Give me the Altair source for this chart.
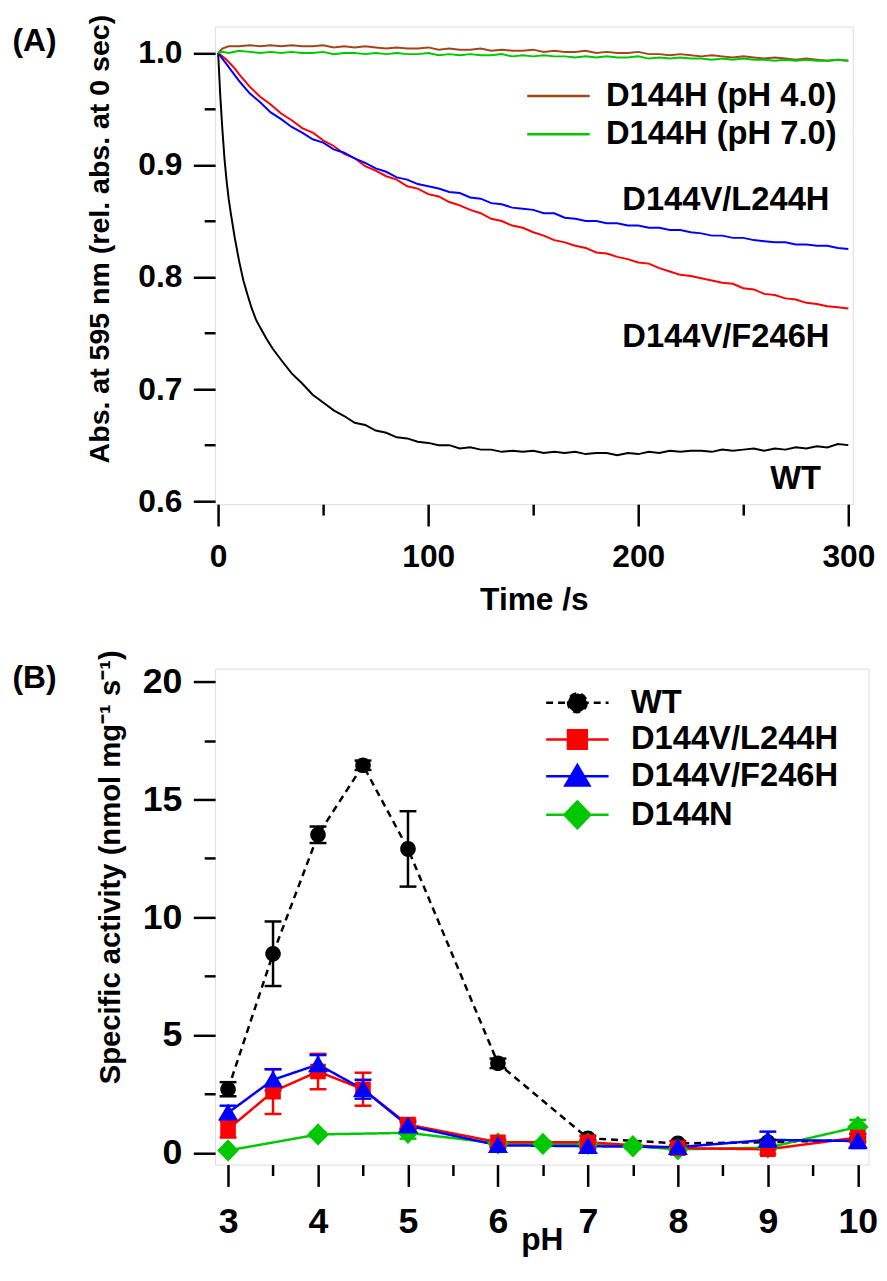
import altair as alt
import pandas as pd

FONT = "Liberation Sans"

# ---------------- Panel A : absorbance time courses ----------------
t_wt = [0, 1, 2, 3, 4, 5, 6, 8, 10, 12, 14, 16, 18, 20, 23, 26,
        30, 35, 40, 45, 50, 55, 60, 65, 70, 75, 80, 85, 90, 95, 100, 105, 110, 115, 120, 125,
        130, 135, 140, 145, 150, 155, 160, 165, 170, 175, 180, 185, 190, 195, 200, 205, 210,
        215, 220, 225, 230, 235, 240, 245, 250, 255, 260, 265, 270, 275, 280, 285, 290, 295, 300]
abs_wt = [1.000, 0.962, 0.932, 0.906, 0.886, 0.870, 0.857, 0.834, 0.814, 0.797, 0.784, 0.772,
          0.762, 0.755, 0.745, 0.736,
          0.726, 0.714, 0.705, 0.695, 0.688, 0.681, 0.676, 0.670, 0.668, 0.663, 0.661, 0.657,
          0.656, 0.653, 0.652, 0.650, 0.650, 0.647, 0.648, 0.646, 0.646, 0.644, 0.645, 0.644,
          0.645, 0.643, 0.644, 0.643, 0.644, 0.642, 0.643, 0.643, 0.641, 0.643, 0.642, 0.644,
          0.643, 0.645, 0.644, 0.645, 0.645, 0.644, 0.646, 0.645, 0.646, 0.647, 0.645, 0.647,
          0.646, 0.648, 0.647, 0.649, 0.648, 0.651, 0.650]

t_mut = [0, 2, 4, 6, 8, 10, 15, 20, 25, 30, 35, 40, 45, 50, 55, 60, 65, 70, 75, 80, 85, 90,
         95, 100, 105, 110, 115, 120, 125, 130, 135, 140, 145, 150, 155, 160, 165, 170, 175,
         180, 185, 190, 195, 200, 205, 210, 215, 220, 225, 230, 235, 240, 245, 250, 255, 260,
         265, 270, 275, 280, 285, 290, 295, 300]
abs_l244h = [1.000, 0.995, 0.990, 0.985, 0.980, 0.975, 0.964, 0.956, 0.947, 0.941, 0.934,
             0.929, 0.923, 0.920, 0.914, 0.911, 0.906, 0.902, 0.897, 0.894, 0.889, 0.887,
             0.883, 0.881, 0.879, 0.876, 0.875, 0.871, 0.870, 0.866, 0.865, 0.862, 0.861,
             0.860, 0.857, 0.857, 0.853, 0.852, 0.850, 0.850, 0.848, 0.848, 0.846, 0.846,
             0.844, 0.844, 0.842, 0.842, 0.840, 0.839, 0.837, 0.837, 0.835, 0.835, 0.833,
             0.832, 0.831, 0.831, 0.829, 0.829, 0.828, 0.828, 0.826, 0.825]
abs_f246h = [1.000, 0.997, 0.994, 0.990, 0.986, 0.981, 0.970, 0.961, 0.954, 0.946, 0.940,
             0.933, 0.929, 0.922, 0.917, 0.910, 0.906, 0.899, 0.895, 0.890, 0.887, 0.881,
             0.879, 0.874, 0.872, 0.867, 0.864, 0.860, 0.857, 0.852, 0.850, 0.846, 0.844,
             0.840, 0.837, 0.833, 0.831, 0.828, 0.826, 0.822, 0.821, 0.818, 0.816, 0.813,
             0.812, 0.808, 0.805, 0.802, 0.801, 0.799, 0.797, 0.795, 0.794, 0.790, 0.789,
             0.785, 0.784, 0.781, 0.780, 0.777, 0.776, 0.774, 0.773, 0.772]

t_flat = [0, 2, 5, 10, 15, 20, 25, 30, 35, 40, 45, 50, 55, 60, 65, 70, 75, 80, 85, 90, 95,
          100, 105, 110, 115, 120, 125, 130, 135, 140, 145, 150, 155, 160, 165, 170, 175, 180,
          185, 190, 195, 200, 205, 210, 215, 220, 225, 230, 235, 240, 245, 250, 255, 260, 265,
          270, 275, 280, 285, 290, 295, 300]
abs_d144h_ph4 = [1.000, 1.004, 1.006, 1.006, 1.007, 1.006, 1.007, 1.006, 1.007, 1.006, 1.006,
                 1.007, 1.005, 1.006, 1.005, 1.006, 1.005, 1.004, 1.005, 1.004, 1.004, 1.005,
                 1.003, 1.004, 1.003, 1.003, 1.004, 1.002, 1.003, 1.002, 1.002, 1.003, 1.001,
                 1.002, 1.001, 1.001, 1.002, 1.000, 1.001, 1.000, 1.000, 1.001, 0.999, 0.999,
                 0.998, 0.999, 0.998, 0.997, 0.998, 0.997, 0.996, 0.997, 0.996, 0.995, 0.996,
                 0.995, 0.994, 0.995, 0.994, 0.993, 0.994, 0.993]
abs_d144h_ph7 = [1.000, 1.001, 1.000, 1.002, 1.001, 1.000, 1.001, 1.000, 1.001, 1.000, 1.000,
                 1.001, 0.999, 1.000, 1.000, 0.999, 1.000, 0.999, 1.000, 0.999, 0.999, 1.000,
                 0.998, 0.999, 0.998, 0.999, 0.998, 0.998, 0.999, 0.997, 0.998, 0.997, 0.998,
                 0.997, 0.997, 0.996, 0.997, 0.996, 0.997, 0.996, 0.996, 0.997, 0.995, 0.996,
                 0.995, 0.996, 0.995, 0.995, 0.994, 0.995, 0.994, 0.995, 0.994, 0.994, 0.993,
                 0.994, 0.993, 0.994, 0.993, 0.993, 0.994, 0.993]

series_a = ["WT", "D144V/F246H", "D144V/L244H", "D144H (pH 4.0)", "D144H (pH 7.0)"]
colors_a = ["#000000", "#FF0000", "#0000FF", "#A4441C", "#00C800"]
legend_a_values = ["D144H (pH 4.0)", "D144H (pH 7.0)"]

ann_a_text = ["D144V/L244H", "D144V/F246H", "WT"]
ann_a_t = [291, 291, 287]
ann_a_v = [0.869, 0.746, 0.620]

# ---------------- Panel B : pH profiles ----------------
series_b = ["WT", "D144V/L244H", "D144V/F246H", "D144N"]
colors_b = ["#000000", "#FF0000", "#0000FF", "#00C800"]

ph_wt = [3, 3.5, 4, 4.5, 5, 6, 7, 8, 9, 10]
act_wt = [2.7, 8.45, 13.5, 16.45, 12.9, 3.8, 0.62, 0.4, 0.45, 0.55]
err_wt = [0.3, 1.37, 0.35, 0.2, 1.6, 0.2, 0.1, 0.1, 0.1, 0.1]

ph_l244h = [3, 3.5, 4, 4.5, 5, 6, 7, 8, 9, 10]
act_l244h = [1.0, 2.6, 3.45, 2.7, 1.2, 0.45, 0.45, 0.2, 0.15, 0.65]
err_l244h = [0.35, 0.95, 0.75, 0.7, 0.2, 0.1, 0.1, 0.1, 0.2, 0.15]

ph_f246h = [3, 3.5, 4, 4.5, 5, 6, 7, 8, 9, 10]
act_f246h = [1.7, 3.1, 3.75, 2.7, 1.15, 0.32, 0.28, 0.24, 0.55, 0.5]
err_f246h = [0.3, 0.45, 0.4, 0.4, 0.15, 0.1, 0.1, 0.1, 0.35, 0.3]

ph_d144n = [3, 4, 5, 6, 6.5, 7, 7.5, 8, 9, 10]
act_d144n = [0.1, 0.78, 0.85, 0.4, 0.38, 0.38, 0.28, 0.15, 0.22, 1.1]
err_d144n = [0.05, 0.1, 0.25, 0.1, 0.1, 0.1, 0.1, 0.1, 0.1, 0.3]

# ---------------- tables ----------------
df_a = pd.concat([
    pd.DataFrame({"t": t_wt, "v": abs_wt, "series": "WT"}),
    pd.DataFrame({"t": t_mut, "v": abs_f246h, "series": "D144V/F246H"}),
    pd.DataFrame({"t": t_mut, "v": abs_l244h, "series": "D144V/L244H"}),
    pd.DataFrame({"t": t_flat, "v": abs_d144h_ph4, "series": "D144H (pH 4.0)"}),
    pd.DataFrame({"t": t_flat, "v": abs_d144h_ph7, "series": "D144H (pH 7.0)"}),
], ignore_index=True)
df_ann = pd.DataFrame({"label": ann_a_text, "t": ann_a_t, "v": ann_a_v})

def tbl(name, ph, act, err):
    return pd.DataFrame({"ph": ph, "act": act, "lo": [a - e for a, e in zip(act, err)],
                         "hi": [a + e for a, e in zip(act, err)], "series": name})

df_b = pd.concat([
    tbl("WT", ph_wt, act_wt, err_wt),
    tbl("D144N", ph_d144n, act_d144n, err_d144n),
    tbl("D144V/L244H", ph_l244h, act_l244h, err_l244h),
    tbl("D144V/F246H", ph_f246h, act_f246h, err_f246h),
], ignore_index=True)

# ---------------- axes (major with labels, minor without) ----------------
def major(title, values, orient, label_size, title_size, fmt, **kw):
    return alt.Axis(
        title=title, values=values, orient=orient, format=fmt, grid=False, domain=False,
        tickColor="black", tickWidth=2.5, tickSize=22,
        labelFont=FONT, labelFontSize=label_size, labelFontWeight="bold", labelColor="black",
        labelOverlap=False, labelFlush=False, titleFont=FONT, titleFontSize=title_size,
        titleFontWeight="bold", titleColor="black", **kw)

def minor(values, orient):
    return alt.Axis(title=None, values=values, orient=orient, labels=False, grid=False,
                    domain=False, tickColor="black", tickWidth=2.5, tickSize=11)

x_major_a = major("Time /s", [0, 100, 200, 300], "bottom", 32, 32, "d",
                  labelPadding=15.5, titleBaseline="alphabetic", titleY=106)
x_minor_a = minor([50, 150, 250], "bottom")
y_major_a = major("Abs. at 595 nm (rel. abs. at 0 sec)", [0.6, 0.7, 0.8, 0.9, 1.0], "left",
                  32, 28.8, ".1f", labelPadding=11.5, titleBaseline="alphabetic",
                  titleX=-107.5, titleY=214)
y_minor_a = minor([0.65, 0.75, 0.85, 0.95], "left")

x_major_b = major("pH", [3, 4, 5, 6, 7, 8, 9, 10], "bottom", 36, 32, "d",
                  labelPadding=18.5, titleBaseline="alphabetic", titleY=86)
x_minor_b = minor([3.5, 4.5, 5.5, 6.5, 7.5, 8.5, 9.5], "bottom")
y_major_b = major("Specific activity (nmol mg\u207b\u00b9 s\u207b\u00b9)", [0, 5, 10, 15, 20],
                  "left", 36, 29.5, "d", labelPadding=11.5, titleBaseline="alphabetic",
                  titleX=-96.5, titleY=200)
y_minor_b = minor([2.5, 7.5, 12.5, 17.5], "left")

# ---------------- panel A ----------------
sx_a = alt.Scale(domain=[-1.46, 302.1], nice=False, zero=False)
sy_a = alt.Scale(domain=[0.5973, 1.0236], nice=False, zero=False)

legend_a = alt.Legend(values=legend_a_values, title=None, orient="none", legendX=330, legendY=53.6,
                      labelFont=FONT, labelFontSize=33, labelFontWeight="bold", labelColor="black",
                      symbolType="M-3.15,0H3.15", symbolSize=400, symbolStrokeWidth=2.5,
                      labelOffset=31.4, rowPadding=4.5, padding=0, labelLimit=500)

lines_a = alt.Chart(df_a).mark_line(strokeWidth=2, clip=True).encode(
    x=alt.X("t:Q", scale=sx_a, axis=x_major_a),
    y=alt.Y("v:Q", scale=sy_a, axis=y_major_a),
    color=alt.Color("series:N", scale=alt.Scale(domain=series_a, range=colors_a), legend=legend_a),
)
ann_a = alt.Chart(df_ann).mark_text(align="right", baseline="middle", font=FONT, fontSize=33,
                                    fontWeight="bold", color="black").encode(
    x=alt.X("t:Q", axis=x_minor_a), y=alt.Y("v:Q", axis=y_minor_a), text="label:N")
tag_a = alt.Chart(pd.DataFrame({"tag": ["(A)"]})).mark_text(
    align="left", baseline="middle", font=FONT, fontSize=32, fontWeight="bold", color="black"
).encode(x=alt.value(-204.5), y=alt.value(15), text="tag:N")

panel_a = alt.layer(lines_a, ann_a, tag_a).resolve_axis(x="independent", y="independent") \
    .properties(width=643.5, height=482)

# ---------------- panel B ----------------
sx_b = alt.Scale(domain=[2.856, 10.12], nice=False, zero=False)
sy_b = alt.Scale(domain=[-0.5, 20.55], nice=False, zero=False)

shapes_b = [
    "M-3.5,0H3.5M1.05,0A1.05,1.05,0,1,1,-1.05,0A1.05,1.05,0,1,1,1.05,0Z",
    "M-3.5,0H3.5M-1.05,-1.05H1.05V1.05H-1.05Z",
    "M-3.5,0H3.5M0,-1.25L1.35,1.05H-1.35Z",
    "M-3.5,0H3.5M0,-1.5L1.45,0L0,1.5L-1.45,0Z",
]
dashes_b = [[7, 5], [1, 0], [1, 0], [1, 0]]

legend_b = alt.Legend(title=None, orient="none", legendX=349.1, legendY=18,
                      labelFont=FONT, labelFontSize=33, labelFontWeight="bold", labelColor="black",
                      symbolSize=324, symbolStrokeWidth=2.5, labelOffset=37.6, rowPadding=3,
                      padding=0, labelLimit=500)

cscale_b = alt.Scale(domain=series_b, range=colors_b)
dscale_b = alt.Scale(domain=series_b, range=dashes_b)
sscale_b = alt.Scale(domain=series_b, range=shapes_b)

# legend-only layer (filtered to no rows): symbols combine line and marker
legend_layer_b = alt.Chart(df_b).transform_filter("false").mark_point(
    filled=True, size=324, strokeWidth=2.5, opacity=1).encode(
    x=alt.X("ph:Q", scale=sx_b, axis=None), y=alt.Y("act:Q", scale=sy_b, axis=None),
    color=alt.Color("series:N", scale=cscale_b, legend=legend_b),
    stroke=alt.Stroke("series:N", scale=cscale_b, legend=legend_b),
    shape=alt.Shape("series:N", scale=sscale_b, legend=legend_b),
    strokeDash=alt.StrokeDash("series:N", scale=dscale_b, legend=legend_b),
)
lines_b = alt.Chart(df_b).mark_line(strokeWidth=2.5).encode(
    x=alt.X("ph:Q", scale=sx_b, axis=x_major_b),
    y=alt.Y("act:Q", scale=sy_b, axis=y_major_b),
    color=alt.Color("series:N", scale=cscale_b),
    strokeDash=alt.StrokeDash("series:N", scale=dscale_b),
)
bars_b = alt.Chart(df_b).mark_rule(strokeWidth=2.5).encode(
    x=alt.X("ph:Q", axis=None), y=alt.Y("lo:Q", axis=None), y2="hi:Q",
    color=alt.Color("series:N", scale=cscale_b),
)
cap_lo = alt.Chart(df_b).mark_tick(orient="horizontal", size=17, thickness=2.5, opacity=1).encode(
    x=alt.X("ph:Q", axis=None), y=alt.Y("lo:Q", axis=None),
    color=alt.Color("series:N", scale=cscale_b))
cap_hi = alt.Chart(df_b).mark_tick(orient="horizontal", size=17, thickness=2.5, opacity=1).encode(
    x=alt.X("ph:Q", axis=None), y=alt.Y("hi:Q", axis=None),
    color=alt.Color("series:N", scale=cscale_b))
points_b = alt.Chart(df_b).mark_point(filled=True, size=225, opacity=1).encode(
    x=alt.X("ph:Q", axis=x_minor_b), y=alt.Y("act:Q", axis=y_minor_b),
    color=alt.Color("series:N", scale=cscale_b),
    shape=alt.Shape("series:N", scale=sscale_b),
)
tag_b = alt.Chart(pd.DataFrame({"tag": ["(B)"]})).mark_text(
    align="left", baseline="middle", font=FONT, fontSize=32, fontWeight="bold", color="black"
).encode(x=alt.value(-204.5), y=alt.value(9.5), text="tag:N")

panel_b = alt.layer(legend_layer_b, lines_b, bars_b, cap_lo, cap_hi, points_b, tag_b) \
    .resolve_axis(x="independent", y="independent") \
    .properties(width=659.5, height=500.5)

chart = alt.vconcat(panel_a, panel_b, spacing=166).properties(
    bounds="flush", padding={"left": 4, "top": 0, "right": -6, "bottom": -5}
).resolve_scale(
    color="independent", stroke="independent", shape="independent", strokeDash="independent"
).resolve_legend(
    color="independent", stroke="independent", shape="independent", strokeDash="independent"
).configure_view(stroke="black", strokeWidth=2.5).configure(background="white")

chart.save("out.html", embed_options={"renderer": "svg", "actions": False})
